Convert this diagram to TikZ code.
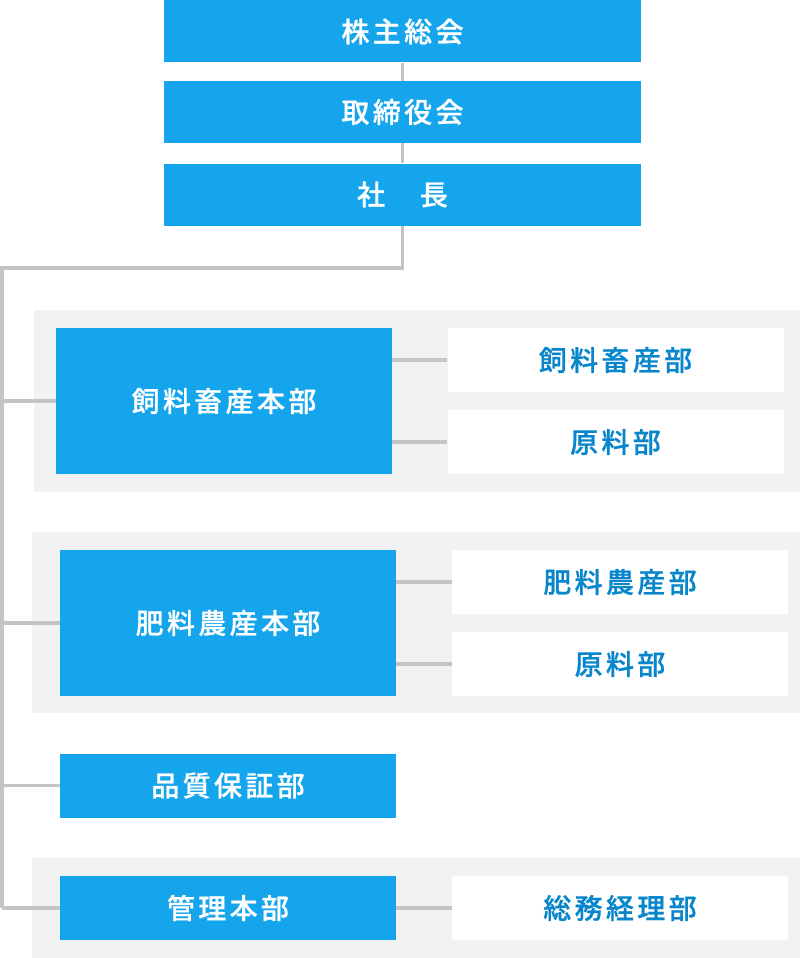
\documentclass[tikz,border=0pt]{standalone}
\usepackage{fontspec}
\newfontfamily\jpfont[LetterSpace=12,FakeBold=0.7]{Noto Sans CJK JP Medium}
\definecolor{orgblue}{RGB}{20,165,236}
\definecolor{orgtext}{RGB}{8,134,204}
\definecolor{orggray}{RGB}{196,196,196}
\definecolor{panelgray}{RGB}{242,242,242}

\begin{document}
\begin{tikzpicture}[x=1pt,y=-1pt,
	box/.style={rectangle,inner sep=0pt,font=\jpfont\fontsize{28}{30}\selectfont},
	head/.style={box,fill=orgblue,text=white,minimum width=477pt,minimum height=62pt},
	hq/.style={box,fill=orgblue,text=white,minimum width=336pt,minimum height=146pt},
	dept/.style={box,fill=orgblue,text=white,minimum width=336pt,minimum height=64pt},
	sub/.style={box,fill=white,text=orgtext,minimum width=336pt,minimum height=64pt},
	panel/.style={rectangle,inner sep=0pt,fill=panelgray},
	link/.style={draw=orggray,line width=3.5pt}
]
\useasboundingbox (0,0) rectangle (800,958);
% gray panels
\node[panel,minimum width=766pt,minimum height=182pt] (p1) at (417,401) {};
\node[panel,minimum width=768pt,minimum height=181pt] (p2) at (416,622.5) {};
\node[panel,minimum width=768pt,minimum height=100pt] (p3) at (416,908) {};
% top of the chart
\foreach \n/\x/\l in{
	soukai/{(402.5,31.5)}/{株主総会},
	torishimari/{(402.5,112)}/{取締役会},
	shacho/{(402.5,194.5)}/{社　長}
}
{
	\node[head] (\n) at \x {\l};
}
% divisions
\node[hq] (shiryo) at (224,401) {飼料畜産本部};
\node[hq] (hiryo) at (228,623) {肥料農産本部};
\node[dept] (hinshitsu) at (228,785.5) {品質保証部};
\node[dept] (kanri) at (228,908) {管理本部};
% departments
\foreach \n/\x/\l in{
	shiryobu/{(615.5,360)}/{飼料畜産部},
	genryoa/{(615.5,442)}/{原料部},
	hiryobu/{(620,582)}/{肥料農産部},
	genryob/{(620,664)}/{原料部},
	somu/{(620,908)}/{総務経理部}
}
{
	\node[sub] (\n) at \x {\l};
}
\coordinate (bend) at (2,268);
\draw[link] (soukai) -- (torishimari) -- (shacho);
\draw[link] (shacho.south) -- (shacho.south |- bend) -- (bend) -- (bend |- kanri.west);
\foreach \b in {shiryo,hiryo,hinshitsu,kanri}
	\draw[link] (bend |- \b.west) -- (\b.west);
\foreach \b/\d in {shiryo/shiryobu,shiryo/genryoa,hiryo/hiryobu,hiryo/genryob,kanri/somu}
	\draw[link] (\d.west -| \b.east) -- (\d.west);
\end{tikzpicture}
\end{document}
